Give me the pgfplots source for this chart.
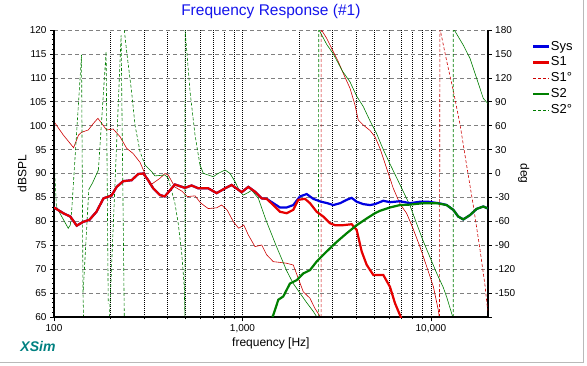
\documentclass[border=0pt]{standalone}
\usepackage{fontspec}
\setmainfont{Liberation Sans}
\usepackage{pgfplots}
\pgfplotsset{compat=1.18}
\pgfkeys{/pgf/number format/assume math mode=true}
\definecolor{sysblue}{RGB}{0,0,225}
\definecolor{sred}{RGB}{230,0,0}
\definecolor{sgreen}{RGB}{0,128,0}
\definecolor{pred}{RGB}{205,0,0}
\definecolor{pgreen}{RGB}{0,125,0}
\definecolor{titleblue}{RGB}{20,20,235}
\definecolor{xsim}{RGB}{0,128,128}
\tikzset{
 phs/.style={line width=0.6pt},
 phd/.style={line width=0.6pt, dash pattern=on 3pt off 2pt},
}
\begin{document}
\begin{tikzpicture}
\useasboundingbox (0,0) rectangle (587pt,365pt);
\draw[gray!55, line width=0.8pt] (0,2.5pt) -- (583.5pt,2.5pt) -- (583.5pt,365pt);
\node[font=\fontsize{14}{16}\selectfont\bfseries\itshape, text=xsim] at (38pt,19pt) {XSim};
% ---------- phase axis with grid
\begin{axis}[xmode=log, xmin=100, xmax=20000, scale only axis, width=433.7pt, height=287pt,
  at={(54pt,48pt)}, anchor=south west,
  ymin=-180, ymax=180,
  axis y line*=right, axis x line*=bottom,
  axis line style={line width=1.6pt},
  xtick={100,1000,10000}, xticklabels={},
  ytick={-180,-150,...,180}, yticklabels={,-150,-120,-90,-60,-30,0,30,60,90,120,150,180},
  tick align=outside, ytick pos=right, xtick pos=bottom,
  major tick length=4pt, minor tick length=0pt,
  tick style={black, line width=0.6pt},
  ymajorgrids, xmajorgrids, xminorgrids,
  major y grid style={gray, dash pattern=on 4pt off 3pt, line width=0.6pt},
  major x grid style={black, dash pattern=on 1pt off 1pt, line width=0.6pt},
  minor x grid style={black, dash pattern=on 1pt off 1pt, line width=0.6pt},
  ticklabel style={font=\fontsize{10}{12}\selectfont},
  ylabel={deg},
  y label style={at={([xshift=36pt]axis description cs:1,0.5)}, rotate=180, anchor=center,
     font=\fontsize{12}{14}\selectfont},
]
% S1 phase
\addplot[pred, phs] coordinates {
(100,65) (112,48.3) (127,32.4) (135,48.3) (140,51.7) (152,54.6) (162,63) (171,69.2) (179,63)
(190,54.6) (206,55.8) (224,46.2) (243,31.6) (263,25) (286,14) (310,-5) (323,-14) (336,-12)
(365,-6) (388,0) (404,-2) (438,-17) (476,-22) (510,-29) (560,-28) (600,-37) (658,-44) (730,-43)
(775,-39.5) (830,-46) (895,-60.5) (955,-68.7) (1016,-64.6) (1074,-77.1) (1165,-91.7) (1265,-89.7)
(1344,-102) (1457,-110.6) (1581,-111.5) (1716,-112.6) (1860,-114.8) (1977,-131.5) (2101,-148.3)
(2281,-156.5) (2420,-169) (2560,-178) (2600,-180)};
\addplot[pred, phd] coordinates {(2612,-180) (2616,180)};
\addplot[pred, phs] coordinates {
(2625,180) (2797,169.6) (3032,152.8) (3224,140.3) (3424,125.7) (3719,106.9) (3953,86) (4115,67)
(4373,60.8) (4749,54) (5047,46) (5363,31.6) (5821,6.5) (6310,-18.6) (6847,-38) (7430,-50)
(8000,-68) (8744,-92) (9500,-117) (10300,-142) (10930,-171) (11066,-180)};
\addplot[pred, phd] coordinates {(11100,-180) (11150,180)
(11200,180) (12117,141) (13133,104) (14251,62) (15467,10) (16766,-40) (18193,-95) (19341,-140) (20000,-172)};
% S2 phase
\addplot[pgreen, phd] coordinates {(100,19) (103,-41.6)};
\addplot[pgreen, phs] coordinates {(103,-41.6) (110,-54.2) (119,-68.7) (122,-64.6)};
\addplot[pgreen, phd] coordinates {(122,-64.6) (124,-48) (140,148.7) (142.5,-150) (143.5,-180)};
\addplot[pgreen, phd] coordinates {(143,-146) (153,-20)};
\addplot[pgreen, phs] coordinates {(153,-20) (160,-12) (172,4.4)};
\addplot[pgreen, phd] coordinates {(172,4.4) (189,152.8) (194,-162.8)};
\addplot[pgreen, phd] coordinates {(197,-180) (227,173.7) (236,-180)};
\addplot[pgreen, phd] coordinates {(236,180) (243,152.8) (258,102.6) (269,60.8) (286,27.4) (304,10.7)};
\addplot[pgreen, phs] coordinates {(304,10.7) (330,2.3) (343,-3) (388,-1.9) (404,-6)};
\addplot[pgreen, phd] coordinates {(404,-6) (438,-37.4) (456,-62.5) (476,-100) (491,-142) (495,-180) (496,180)
(527,102.6) (560,48.3) (595,10.7)};
\addplot[pgreen, phs] coordinates {(595,10.7) (620,0.2) (700,-4) (744,0.2) (808,4.4) (858,0.2) (912,-10)
(970,-23) (1010,-27) (1070,-24) (1119,-21) (1213,-31) (1330,-58) (1505,-90) (1716,-122) (1860,-138)
(2018,-150) (2191,-162) (2375,-173) (2480,-180)};
\addplot[pgreen, phd] coordinates {(2525,-180) (2540,180)};
\addplot[pgreen, phs] coordinates {(2550,180) (2797,162) (3032,150) (3400,128) (3719,115) (4035,97) (4373,84)
(4749,66) (5150,50) (5585,30) (6061,12) (6847,-14) (7737,-40) (8400,-63) (9106,-85) (10000,-108)
(10720,-125) (11625,-143) (12117,-155) (12974,-178) (13050,-180)};
\addplot[pgreen, phd] coordinates {(13120,-180) (13133,180)};
\addplot[pgreen, phs] coordinates {(13300,180) (14840,161) (16103,144.5) (17475,119.4) (18945,94.3) (20000,88)};
\end{axis}
% ---------- magnitude axis
\begin{axis}[xmode=log, xmin=100, xmax=20000, scale only axis, width=433.7pt, height=287pt,
  at={(54pt,48pt)}, anchor=south west,
  ymin=60, ymax=120,
  axis x line*=bottom, axis y line*=left,
  axis line style={line width=1.6pt},
  xtick={100,1000,10000}, xticklabels={100,{1,000},{10,000}},
  ytick={60,65,...,120},
  minor y tick num=4,
  tick align=outside, xtick pos=bottom, ytick pos=left,
  major tick length=4pt, minor tick length=2pt,
  tick style={black, line width=0.6pt},
  ticklabel style={font=\fontsize{10}{12}\selectfont},
  title={Frequency Response (\#1)},
  title style={at={(axis description cs:0.5,1)}, yshift=13pt, anchor=center,
     font=\fontsize{15.5}{18}\selectfont, text=titleblue},
  xlabel={frequency [Hz]},
  x label style={at={(axis description cs:0.5,0)}, yshift=-26pt, anchor=center,
     font=\fontsize{12}{14}\selectfont},
  ylabel={dBSPL},
  y label style={at={([xshift=-32pt]axis description cs:0,0.5)}, anchor=center,
     font=\fontsize{12}{14}\selectfont},
  legend style={at={(1.102,0.969)}, anchor=north west, draw=none, fill=none,
     font=\fontsize{13}{15}\selectfont, row sep=0.9pt, inner sep=0pt,
     nodes={inner sep=1pt, text height=10pt, text depth=3pt}},
  legend cell align=left,
  legend image code/.code={\draw[#1] (0pt,0pt) -- (15.6pt,0pt);},
]
\addplot[sysblue, line width=2.2pt] coordinates {
(100,82.9) (112,81.7) (122,81.0) (132,79.1) (143,79.9) (154,80.3) (168,82.0) (183,84.8) (202,85.4)
(215,87.2) (233,88.4) (258,88.6) (280,89.9) (298,90.0) (316,88.6) (336,86.9) (365,85.5) (387,85.2)
(438,87.7) (495,87.0) (537,87.5) (583,86.9) (658,86.9) (730,85.9) (808,86.9) (876,87.6) (990,86.1)
(1074,87.2) (1165,86.2) (1265,84.8) (1344,84.7) (1457,83.8) (1581,82.9) (1716,82.9) (1860,83.4)
(2018,85.2) (2191,85.7) (2375,84.7) (2610,84.1) (2820,83.8) (3032,83.4) (3300,83.8) (3571,84.5)
(3796,84.9) (4035,84.1) (4373,83.6) (4749,83.4) (5047,83.6) (5585,84.3) (6061,84.0) (6847,84.2)
(7737,83.8) (8744,84.1) (9676,84.1) (10930,83.8) (11600,83.6) (12117,83.4) (13133,82.4) (13960,81.0)
(14840,80.4) (16103,81.3) (17475,82.6) (18945,83.1) (20000,82.7)};
\addlegendentry{Sys}
\addplot[sred, line width=2.2pt] coordinates {
(100,82.9) (112,81.7) (122,81.0) (132,79.1) (143,79.9) (154,80.3) (168,82.0) (183,84.8) (202,85.4)
(215,87.2) (233,88.4) (258,88.6) (280,89.9) (298,90.0) (316,88.6) (336,86.9) (365,85.5) (387,85.2)
(438,87.7) (495,87.0) (537,87.5) (583,86.9) (658,86.9) (730,85.9) (808,86.9) (876,87.6) (990,86.1)
(1074,87.2) (1165,86.2) (1265,84.8) (1344,84.7) (1457,83.4) (1581,82.0) (1716,81.7) (1860,82.4)
(1977,84.5) (2146,84.7) (2281,83.8) (2475,82.0) (2683,81.0) (2913,79.6) (3095,79.2) (3424,79.2)
(3796,79.4) (4035,78.2) (4290,73.7) (4560,70.9) (4942,68.8) (5585,68.8) (6061,66.3) (6441,62.9)
(6847,60.4) (7000,59.5)};
\addlegendentry{S1}
\addlegendimage{pred, line width=0.6pt, dash pattern=on 3pt off 2pt}
\addlegendentry{S1°}
\addplot[sgreen, line width=2.2pt] coordinates {
(1440,60) (1457,60.4) (1549,63.6) (1646,64.3) (1786,67.0) (1939,67.7) (2101,69.1) (2281,69.8)
(2475,71.6) (2797,73.7) (3161,75.7) (3571,77.5) (4035,79.2) (4560,80.6) (5047,81.7) (5363,82.2)
(6061,82.9) (6847,83.4) (7737,83.5) (9106,83.8) (10720,83.8) (12117,83.4) (13133,82.4) (13960,81.0)
(14840,80.4) (16103,81.3) (17475,82.6) (18945,83.1) (20000,82.7)};
\addlegendentry{S2}
\addlegendimage{pgreen, line width=0.6pt, dash pattern=on 3pt off 2pt}
\addlegendentry{S2°}
\end{axis}
\end{tikzpicture}
\end{document}
